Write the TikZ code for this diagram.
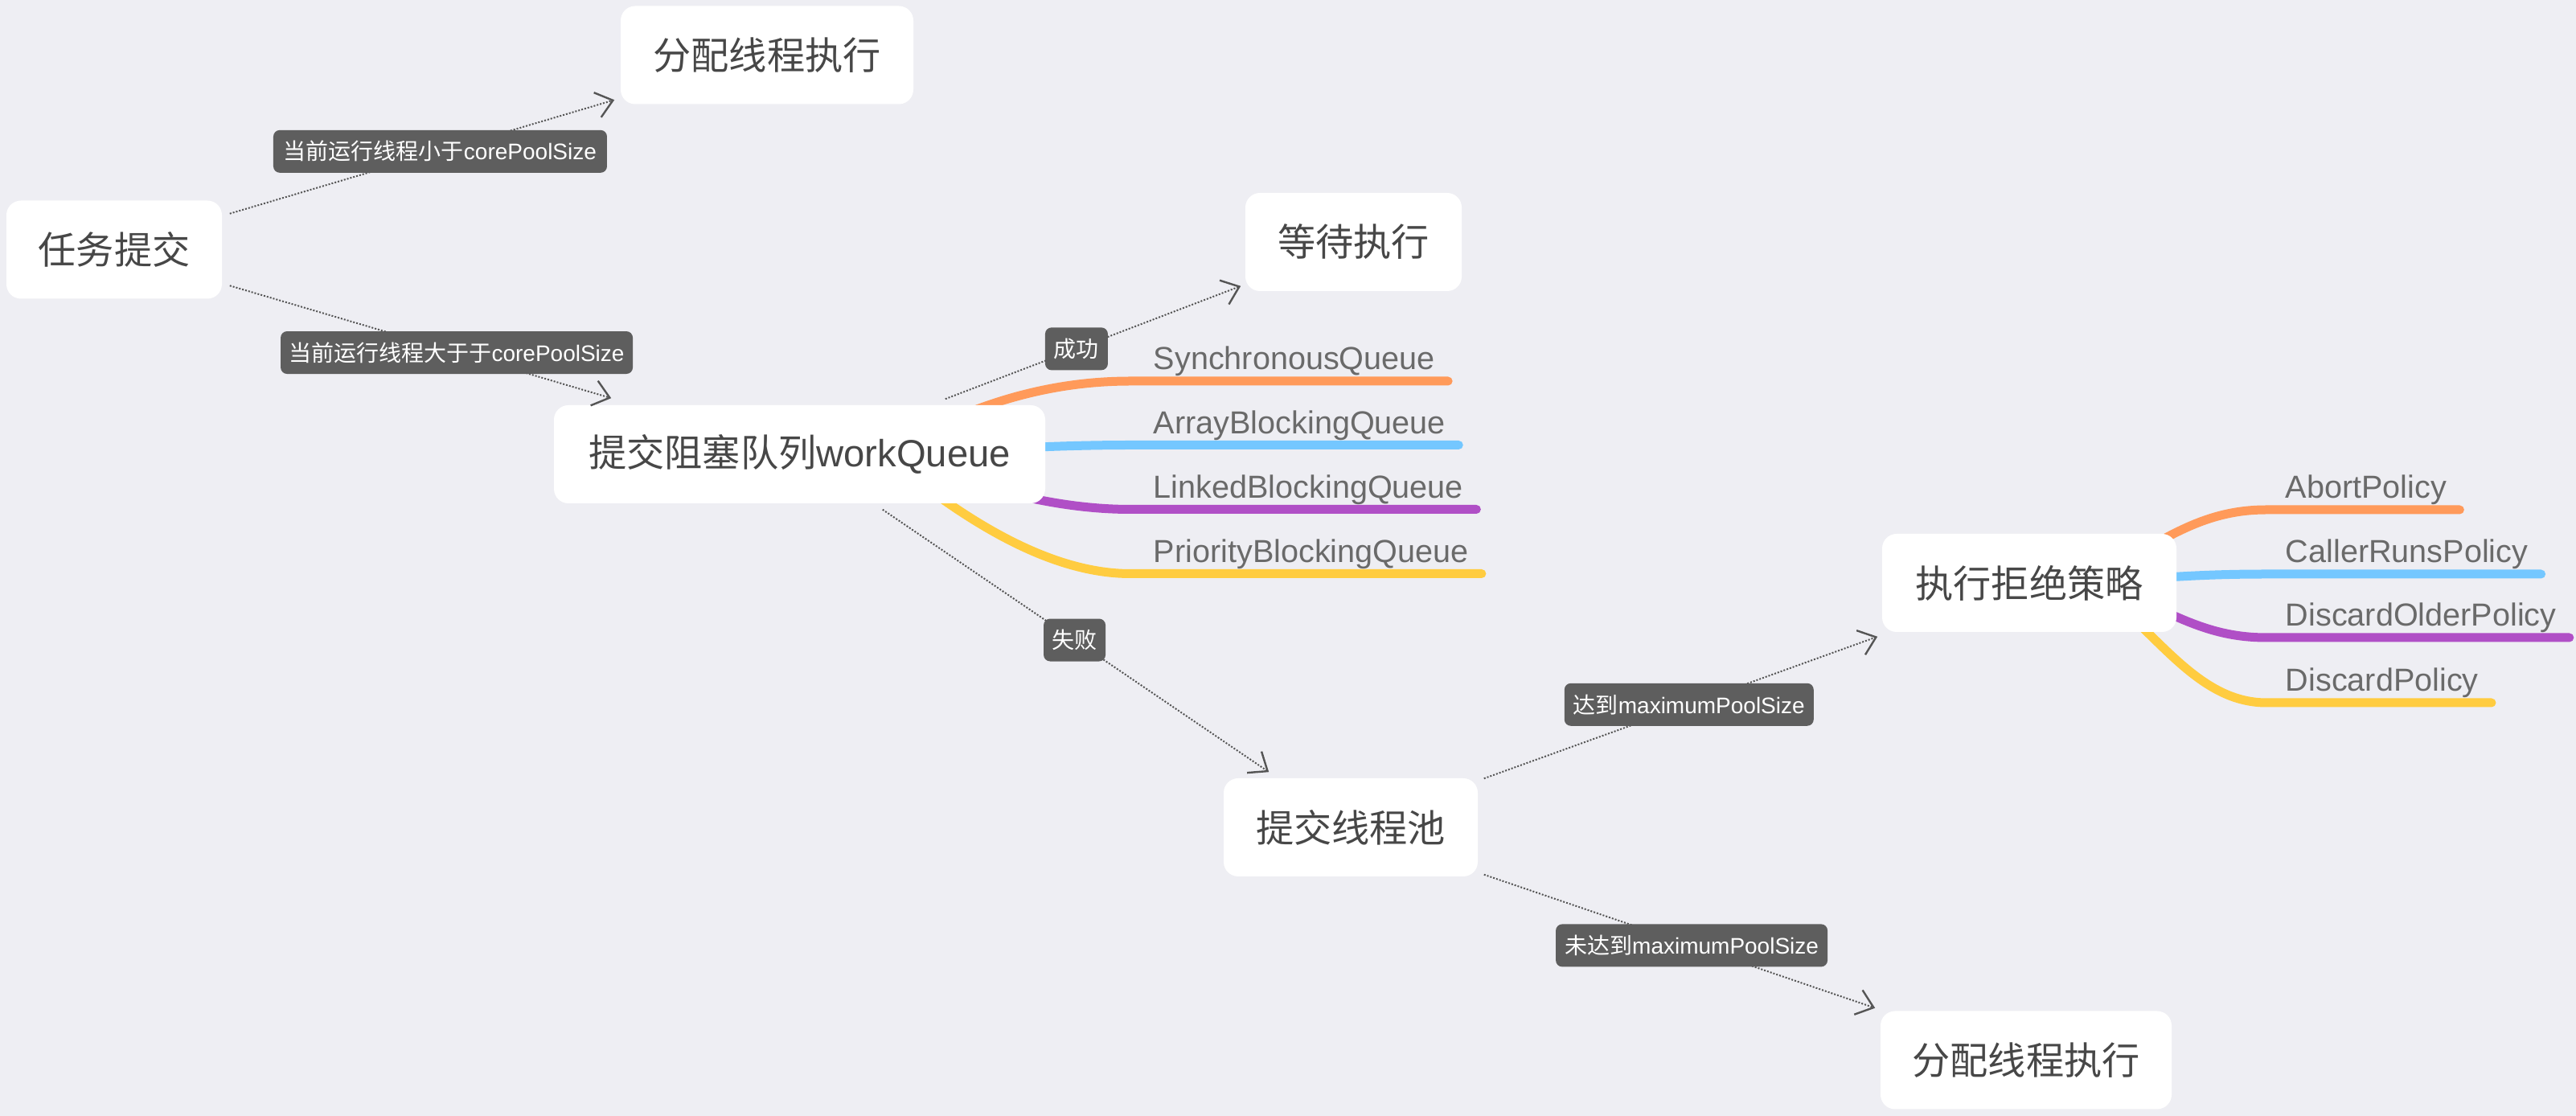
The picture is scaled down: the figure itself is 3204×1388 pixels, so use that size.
\documentclass[tikz,border=0pt]{standalone}
\usepackage{fontspec}
\setmainfont{Liberation Sans}
\newfontfamily\cjk{Noto Sans CJK SC}
\usetikzlibrary{arrows.meta,calc,backgrounds}
\definecolor{bgc}{HTML}{EEEEF3}
\definecolor{nodetxt}{HTML}{474747}
\definecolor{brtxt}{HTML}{6A6A6A}
\definecolor{lblfill}{HTML}{5E5E5E}
\definecolor{conncol}{HTML}{555555}
\definecolor{bo}{HTML}{FF9A5A}
\definecolor{bb}{HTML}{74C7FF}
\definecolor{bp}{HTML}{B04FC6}
\definecolor{by}{HTML}{FFCC40}
\begin{document}
\begin{tikzpicture}[x=0.25pt,y=-0.25pt,
  topic/.style={fill=white, rounded corners=4.5pt, minimum height=30.5pt, inner sep=0pt, text=nodetxt, font=\fontsize{11.8}{14}\selectfont},
  lbl/.style={fill=lblfill, rounded corners=2pt, minimum height=13.25pt, inner sep=0pt, text=white, font=\fontsize{7}{8}\selectfont},
  connector/.style={draw=conncol, line width=0.5pt, dash pattern=on 0.5pt off 0.5pt, -{Straight Barb[length=5pt,width=8pt,line width=0.6pt]}},
  brtext/.style={inner sep=0pt, anchor=base west, text=brtxt, font=\fontsize{9.9}{12}\selectfont},
  branch/.style={line width=2.75pt, line cap=round},
]
\useasboundingbox (0,0) rectangle (3204,1388);

% topics
\node[topic, minimum width=67pt] (task) at (142,310.5) {\cjk 任务提交};
\node[topic, minimum width=91pt] (alloc1) at (954,68.5) {\cjk 分配线程执行};
\node[topic, minimum width=67.25pt] (wait) at (1683.5,301) {\cjk 等待执行};
\node[topic, minimum width=152.75pt] (queue) at (994.5,565) {{\cjk 提交阻塞队列}workQueue};
\node[topic, minimum width=79pt] (pool) at (1680,1029) {\cjk 提交线程池};
\node[topic, minimum width=91.5pt] (reject) at (2524,725) {\cjk 执行拒绝策略};
\node[topic, minimum width=90.5pt] (alloc2) at (2520,1318.5) {\cjk 分配线程执行};

% branch texts
\node[brtext] (sq) at (1434,460) {SynchronousQueue};
\node[brtext] (abq) at (1434,539.5) {ArrayBlockingQueue};
\node[brtext] (lbq) at (1434,619.5) {LinkedBlockingQueue};
\node[brtext] (pbq) at (1434,699.5) {PriorityBlockingQueue};
\node[brtext] (ap) at (2842,620) {AbortPolicy};
\node[brtext] (crp) at (2842,700) {CallerRunsPolicy};
\node[brtext] (dop) at (2842,779) {DiscardOlderPolicy};
\node[brtext] (dp) at (2842,860) {DiscardPolicy};

% connectors
\draw[connector] ($(task.north east)+(9,17)$) -- node[lbl, pos=0.547, minimum width=103.75pt] {{\cjk 当前运行线程小于}corePoolSize} ($(alloc1.south west)+(-7,-6)$);
\draw[connector] ($(task.south east)+(9,-17)$) -- node[lbl, pos=0.595, minimum width=109.5pt] {{\cjk 当前运行线程大于于}corePoolSize} ($(queue.north west)+(72,-8)$);
\draw[connector] ($(queue.north east)+(-125,-7)$) -- node[lbl, pos=0.444, minimum width=19.5pt] {\cjk 成功} ($(wait.south west)+(-5,-7)$);
\draw[connector] ($(queue.south east)+(-203,7)$) -- node[lbl, pos=0.497, minimum width=19.25pt] {\cjk 失败} ($(pool.north west)+(57,-7)$);
\draw[connector] ($(pool.north east)+(7,1)$) -- node[lbl, pos=0.521, minimum width=77.5pt] {{\cjk 达到}maximumPoolSize} ($(reject.south west)+(-5,5)$);
\draw[connector] ($(pool.south east)+(7,-3)$) -- node[lbl, pos=0.531, minimum width=84.5pt] {{\cjk 未达到}maximumPoolSize} ($(alloc2.north west)+(-6,-3)$);

\begin{pgfonlayer}{background}
\fill[bgc] (0,0) rectangle (3204,1388);
% queue branches
\draw[branch, bo] ($(queue.center)+(105.5,0)$) .. controls (1200,505) and (1300,474) .. ($(sq.base west)+(-28,14)$) -- ($(sq.base east)+(15.5,14)$);
\draw[branch, bb] ($(queue.center)+(105.5,0)$) .. controls (1200,561) and (1300,553.5) .. ($(abq.base west)+(-28,14)$) -- ($(abq.base east)+(15.5,14)$);
\draw[branch, bp] ($(queue.center)+(105.5,0)$) .. controls (1200,600) and (1300,633.5) .. ($(lbq.base west)+(-28,14)$) -- ($(lbq.base east)+(15.5,14)$);
\draw[branch, by] ($(queue.center)+(105.5,0)$) .. controls (1190,640) and (1300,713.5) .. ($(pbq.base west)+(-28,14)$) -- ($(pbq.base east)+(15.5,14)$);
% reject branches
\draw[branch, bo] ($(reject.center)+(76,0)$) .. controls (2690,670) and (2740,634) .. ($(ap.base west)+(-23,14)$) -- ($(ap.base east)+(15.5,14)$);
\draw[branch, bb] ($(reject.center)+(76,0)$) .. controls (2690,718) and (2740,714) .. ($(crp.base west)+(-23,14)$) -- ($(crp.base east)+(15.5,14)$);
\draw[branch, bp] ($(reject.center)+(76,0)$) .. controls (2690,750) and (2730,793) .. ($(dop.base west)+(-23,14)$) -- ($(dop.base east)+(15.5,14)$);
\draw[branch, by] ($(reject.center)+(76,0)$) .. controls (2680,780) and (2730,874) .. ($(dp.base west)+(-23,14)$) -- ($(dp.base east)+(15.5,14)$);
\end{pgfonlayer}
\end{tikzpicture}
\end{document}
